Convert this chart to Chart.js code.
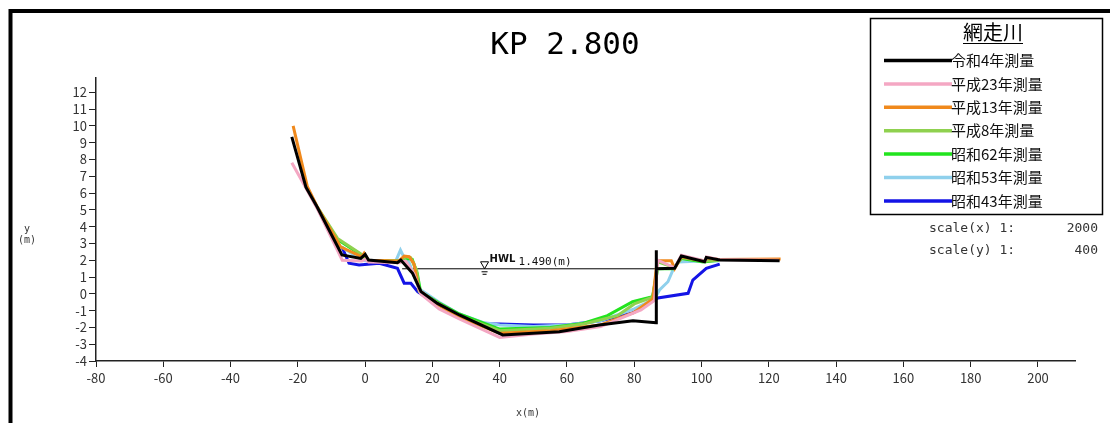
<!DOCTYPE html>
<html>
<head>
<meta charset="utf-8">
<script src="https://cdn.jsdelivr.net/npm/chart.js@4/dist/chart.umd.min.js"></script>
<style>
  body { margin: 0; background: #fff; }
  #chart { display: block; }
</style>
</head>
<body>
<canvas id="chart" width="1110" height="423"></canvas>
<script>
'use strict';

var titleText = 'KP 2.800';
var riverName = '網走川';
var hwlLevel = 1.49;
var hwlFrom = 11;
var hwlTo = 86.5;
var hwlMark = 35.5;

var names = ['令和4年測量', '平成23年測量', '平成13年測量', '平成8年測量', '昭和62年測量', '昭和53年測量', '昭和43年測量'];
var colors = ['#000000', '#f4a7c3', '#f0891c', '#8fd14f', '#22e41e', '#8fd0ec', '#1414e6'];
var widths = [3, 3, 3, 3, 3, 3, 3];

var r4X = [-21.8, -17.6, -14.3, -6.9, -1.3, 0, 1, 9.6, 10.6, 14.1, 16.6, 21.5, 28, 40.9, 57.7, 69.6, 79.6, 86.5, 86.5, 86.6, 92, 94, 100.9, 101.4, 105.4, 123.2];
var r4Y = [9.35, 6.35, 5.18, 2.31, 2.11, 2.35, 2.01, 1.85, 2.01, 1.22, 0.13, -0.57, -1.26, -2.45, -2.26, -1.86, -1.6, -1.72, 2.6, 1.5, 1.52, 2.25, 1.91, 2.17, 2.01, 1.97];

var h23X = [-21.8, -17.6, -14.3, -6.8, -1, 0, 1, 10, 12, 14.5, 16.5, 22, 28, 40, 50, 60, 70, 82, 86, 87, 92, 94, 101, 101.5, 105, 123];
var h23Y = [7.8, 6.3, 5.1, 2.0, 1.95, 2.05, 1.9, 1.85, 1.95, 1.2, 0.0, -0.9, -1.5, -2.6, -2.4, -2.25, -1.95, -0.96, -0.4, 2.0, 1.55, 2.3, 1.95, 2.2, 2.05, 2.0];

var h13X = [-21.4, -17.2, -14.3, -7.3, -1, -0.3, 1, 10, 11.6, 13.1, 14.5, 16, 22, 28, 40, 55, 70, 80, 85.5, 86.8, 91, 92, 94, 101, 101.5, 105, 123.5];
var h13Y = [10.0, 6.4, 5.2, 2.8, 2.2, 2.41, 2.0, 1.95, 2.25, 2.21, 1.8, 0.23, -0.7, -1.4, -2.35, -2.2, -1.85, -1.1, -0.3, 1.97, 1.97, 1.5, 2.2, 1.95, 2.15, 2.05, 2.07];

var h8X = [-17.5, -14.3, -8.2, -0.8, 1, 10, 12, 13.5, 15.3, 16.1, 22, 28, 40, 55, 65, 75, 80, 85.5, 87, 92, 94, 101, 105];
var h8Y = [6.3, 5.2, 3.3, 2.31, 2.0, 1.95, 2.2, 2.15, 1.42, 0.13, -0.6, -1.3, -2.2, -2.05, -1.8, -1.3, -0.6, -0.2, 1.9, 1.55, 2.15, 1.95, 2.0];

var s62X = [-8, -1, 1, 10, 12.5, 14, 15.5, 16.5, 22, 28, 40, 55, 64.7, 72, 79.5, 85.4, 87, 91.5, 94, 100.5, 105];
var s62Y = [3.2, 2.3, 2.0, 1.95, 2.1, 2.05, 1.2, 0.1, -0.55, -1.2, -2.1, -2.0, -1.76, -1.3, -0.47, -0.17, 1.5, 1.5, 2.1, 1.9, 2.0];

var s53X = [-7, -1, 1, 9, 10.5, 11.5, 13, 16, 22, 28, 35, 40, 50, 60, 70, 80, 86, 87.5, 90, 91.5, 93, 100, 105];
var s53Y = [2.8, 2.0, 1.95, 1.9, 2.6, 2.2, 1.9, 0.3, -0.5, -1.2, -1.7, -1.85, -1.95, -1.85, -1.6, -0.9, -0.3, 0.23, 0.72, 1.42, 1.9, 1.95, 1.95];

var s43X = [-6.9, -4.8, -1.8, 4.2, 9.6, 11.6, 13.6, 15.6, 20, 28, 35, 40, 50, 60, 70, 79.5, 87, 96, 97.4, 101.4, 105.4];
var s43Y = [2.8, 1.82, 1.71, 1.82, 1.52, 0.63, 0.63, 0.13, -0.45, -1.3, -1.8, -1.8, -1.85, -1.85, -1.6, -1.14, -0.25, 0.03, 0.82, 1.52, 1.77];

var seriesX = [r4X, h23X, h13X, h8X, s62X, s53X, s43X];
var seriesY = [r4Y, h23Y, h13Y, h8Y, s62Y, s53Y, s43Y];

var xMin = -80, xMax = 211, xStep = 20;
var yMin = -4, yMax = 12.85, yStep = 1;

function toPoints(xs, ys) {
  var pts = [];
  for (var i = 0; i < xs.length; i++) {
    pts.push({x: xs[i], y: ys[i]});
  }
  return pts;
}

var datasets = [];
for (var i = 0; i < names.length; i++) {
  datasets.push({
    label: names[i],
    data: toPoints(seriesX[i], seriesY[i]),
    borderColor: colors[i],
    backgroundColor: colors[i],
    borderWidth: widths[i],
    pointRadius: 0,
    showLine: true,
    tension: 0
  });
}
// HWL line, drawn under the survey lines
datasets.push({
  label: 'HWL',
  data: [{x: hwlFrom, y: hwlLevel}, {x: hwlTo, y: hwlLevel}],
  borderColor: '#000',
  borderWidth: 1,
  pointRadius: 0,
  showLine: true
});

var decorations = {
  id: 'decorations',
  afterDraw: function(chart) {
    var c = chart.ctx;
    var xs = chart.scales.x;
    var ys = chart.scales.y;
    c.save();

    // outer frame
    c.strokeStyle = '#000';
    c.lineWidth = 4;
    c.strokeRect(10.5, 11, 1200, 600);

    // title
    c.fillStyle = '#000';
    c.font = '31px "DejaVu Sans Mono"';
    c.textAlign = 'center';
    c.textBaseline = 'middle';
    c.fillText(titleText, 565, 46);

    // legend box
    c.lineWidth = 1.5;
    c.strokeRect(870.5, 18.5, 232, 196);
    c.font = '20px "Noto Sans CJK JP"';
    c.fillText(riverName, 993, 32);
    var w = c.measureText(riverName).width;
    c.lineWidth = 1.2;
    c.beginPath();
    c.moveTo(993 - w / 2, 43.5);
    c.lineTo(993 + w / 2, 43.5);
    c.stroke();

    c.font = '15px "Noto Sans CJK JP"';
    c.textAlign = 'left';
    for (var i = 0; i < names.length; i++) {
      var ly = 60.5 + i * 23.4;
      c.strokeStyle = colors[i];
      c.lineWidth = 3.5;
      c.beginPath();
      c.moveTo(884, ly);
      c.lineTo(952, ly);
      c.stroke();
      c.fillStyle = '#111';
      c.fillText(names[i], 951, ly);
    }

    // scale notes
    c.font = '13px "DejaVu Sans Mono"';
    c.fillStyle = '#333';
    c.fillText('scale(x) 1:', 929, 229);
    c.fillText('scale(y) 1:', 929, 251);
    c.textAlign = 'right';
    c.fillText('2000', 1098, 229);
    c.fillText('400', 1098, 251);

    // HWL mark and label
    var hx = xs.getPixelForValue(hwlMark);
    var hy = ys.getPixelForValue(hwlLevel);
    c.strokeStyle = '#000';
    c.lineWidth = 1;
    c.beginPath();
    c.moveTo(hx - 4, hy - 7);
    c.lineTo(hx + 4, hy - 7);
    c.lineTo(hx, hy);
    c.closePath();
    c.stroke();
    c.beginPath();
    c.moveTo(hx - 3, hy + 3);
    c.lineTo(hx + 3, hy + 3);
    c.moveTo(hx - 2, hy + 5.5);
    c.lineTo(hx + 2, hy + 5.5);
    c.stroke();
    c.fillStyle = '#111';
    c.textAlign = 'left';
    c.font = 'bold 10px "DejaVu Sans"';
    c.fillText('HWL', hx + 5, hy - 9);
    c.font = '11px "DejaVu Sans Mono"';
    c.fillText(hwlLevel.toFixed(3) + '(m)', hx + 34, hy - 7);

    // axis titles
    c.fillStyle = '#333';
    c.textAlign = 'center';
    c.font = '10px "DejaVu Sans Mono"';
    c.fillText('y', 27, 229);
    c.fillText('(m)', 27, 240);
    c.fillText('x(m)', 528, 413);

    c.restore();
  }
};

var chart = new Chart(document.getElementById('chart').getContext('2d'), {
  type: 'scatter',
  data: {datasets: datasets},
  options: {
    responsive: false,
    animation: false,
    layout: {padding: {top: 78, right: 35, left: 0, bottom: 0}},
    plugins: {legend: {display: false}, tooltip: {enabled: false}},
    scales: {
      x: {
        type: 'linear',
        min: xMin,
        max: xMax,
        afterFit: function(scale) { scale.height = 62; },
        border: {display: true, color: '#222', width: 1.5},
        grid: {drawOnChartArea: false, drawTicks: true, tickLength: 6, color: '#222'},
        ticks: {stepSize: xStep, includeBounds: false, autoSkip: false, maxRotation: 0,
          color: '#333', padding: 3, font: {family: 'Noto Sans CJK JP', size: 13}}
      },
      y: {
        type: 'linear',
        min: yMin,
        max: yMax,
        afterFit: function(scale) { scale.width = 96; },
        border: {display: true, color: '#222', width: 1.5},
        grid: {drawOnChartArea: false, drawTicks: true, tickLength: 7, color: '#222'},
        ticks: {stepSize: yStep, includeBounds: false, autoSkip: false,
          color: '#333', padding: 2, font: {family: 'Noto Sans CJK JP', size: 13}}
      }
    }
  },
  plugins: [decorations]
});
</script>
</body>
</html>
